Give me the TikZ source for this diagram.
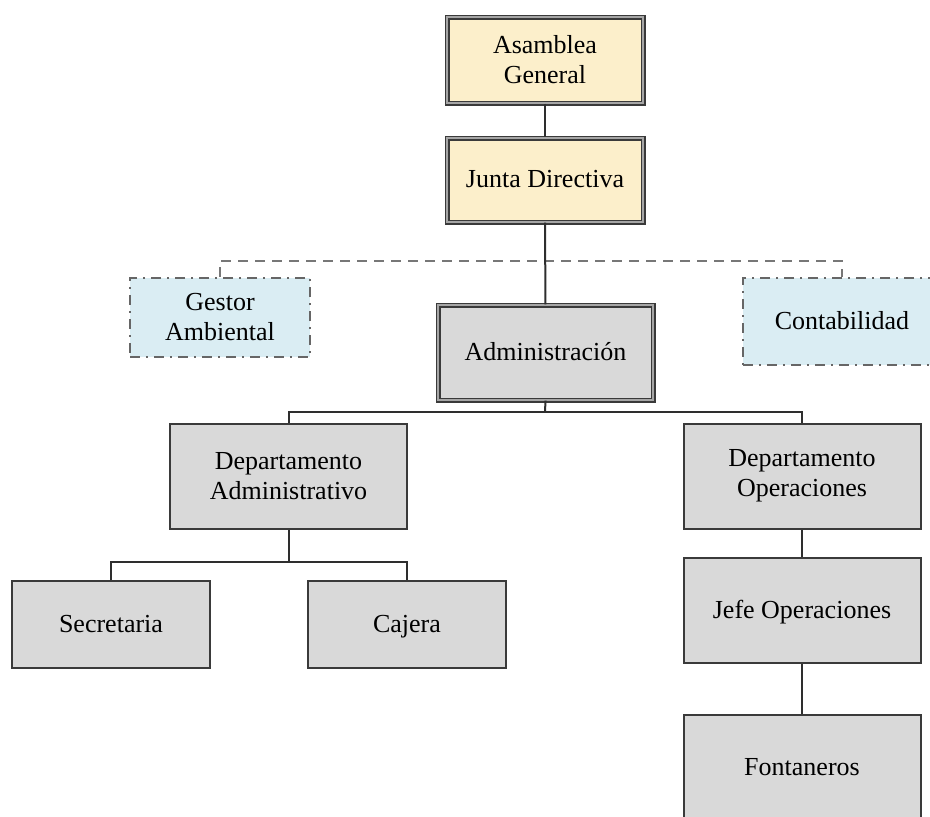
\documentclass[tikz,border=0pt]{standalone}
\usepackage{fontspec}
\setmainfont{Liberation Serif}
\begin{document}
\begin{tikzpicture}[x=1pt,y=-1pt,
  font=\fontsize{26}{30}\selectfont,
  box/.style={draw=boxline, line width=2pt, fill=boxgray, align=center,
    inner sep=0pt, minimum width=#1},
  box/.default=237pt,
  oneline/.style={text height=20pt, text depth=5pt},
  dbox/.style={draw=boxline, line width=1.4pt, double=dframe, double distance=2.2pt,
    align=center, inner sep=0pt},
  staff/.style={draw=staffline, line width=2.5pt, fill=staffblue, align=center,
    inner sep=0pt, dash pattern=on 10pt off 6pt on 2pt off 6pt},
  link/.style={draw=linkc, line width=2pt},
  advice/.style={draw=advc, line width=2.6pt, dash pattern=on 10pt off 7pt},
]
\definecolor{boxline}{HTML}{3A3A3A}
\definecolor{boxgray}{HTML}{D9D9D9}
\definecolor{dframe}{HTML}{A6A6A6}
\definecolor{boardfill}{HTML}{FCEFCB}
\definecolor{staffblue}{HTML}{DAEDF3}
\definecolor{staffline}{HTML}{666666}
\definecolor{linkc}{HTML}{2E2E2E}
\definecolor{advc}{HTML}{777777}

\path[use as bounding box] (0,0) rectangle (930,817);
\clip (0,0) rectangle (930,817);

% governing bodies
\node[dbox, fill=boardfill, minimum width=196pt, minimum height=86pt] (asamblea) at (545,60) {Asamblea\\General};
\node[dbox, oneline, fill=boardfill, minimum width=196pt, minimum height=84pt] (junta) at (545,180) {Junta Directiva};

% staff advisers
\node[staff, minimum width=180pt, minimum height=79pt] (gestor) at (220,317.5) {Gestor\\Ambiental};
\node[staff, oneline, minimum width=198pt, minimum height=87pt] (conta) at (842,321.5) {Contabilidad};

% administration
\node[dbox, oneline, fill=boxgray, minimum width=215pt, minimum height=95pt] (admin) at (545.5,352.5) {Administración};

% departments
\node[box, minimum height=105pt] (deptadm) at (288.5,476) {Departamento\\Administrativo};
\node[box, minimum height=105pt] (deptops) at (802,476) {Departamento\\Operaciones};

% administrative staff
\node[box=198pt, oneline, minimum height=87pt] (secre) at (111,624.5) {Secretaria};
\node[box=198pt, oneline, minimum height=87pt] (cajera) at (407,624.5) {Cajera};

% operations staff
\node[box, oneline, minimum height=105pt] (jefe) at (802,610.5) {Jefe Operaciones};
\node[box, oneline, minimum height=105pt] (fonta) at (802,767.5) {Fontaneros};

% connectors
\coordinate (staffbus) at (545,261);
\coordinate (deptbus) at (545,412);
\coordinate (admbus) at (288.5,562);

\draw[link] (asamblea) -- (junta);
\draw[advice] (gestor.north) |- (staffbus) -| (conta.north);
\draw[link] (junta) -- (admin);
\draw[link] (admin.south) -- (deptbus);
\draw[link] (deptadm.north) |- (deptbus) -| (deptops.north);
\draw[link] (deptadm.south) -- (admbus);
\draw[link] (secre.north) |- (admbus) -| (cajera.north);
\draw[link] (deptops) -- (jefe);
\draw[link] (jefe) -- (fonta);
\end{tikzpicture}
\end{document}
